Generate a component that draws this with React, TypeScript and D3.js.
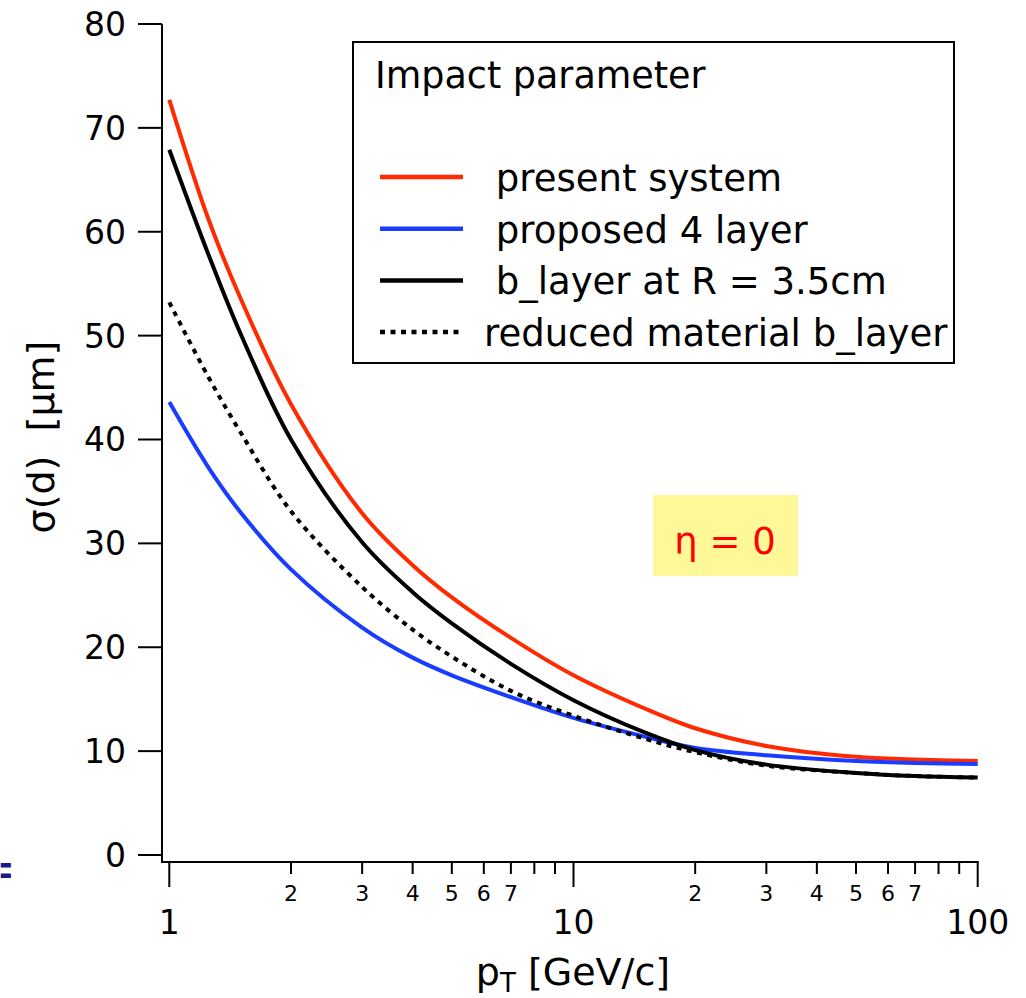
import React from 'react'
import * as d3 from 'd3'

// pT points (GeV/c) where curves were read
const pT = [1, 1.25, 1.5, 2, 3, 4, 5, 7, 10, 15, 20, 30, 50, 70, 100]

// sigma(d) in micrometres
const presentSystem = [72.7, 61.2, 53.6, 43.4, 32.9, 27.9, 24.8, 20.9, 17.3, 14.1, 12.2, 10.5, 9.45, 9.2, 9.05]
const proposed4Layer = [43.6, 37.3, 33.0, 27.5, 21.9, 19.0, 17.3, 15.2, 13.2, 11.4, 10.3, 9.6, 9.05, 8.85, 8.75]
const bLayer = [67.9, 57.8, 50.2, 40.0, 30.1, 25.3, 22.3, 18.4, 14.9, 11.8, 10.1, 8.7, 7.9, 7.6, 7.45]
const reducedBLayer = [53.2, 46.0, 40.7, 33.1, 25.8, 21.7, 19.1, 15.8, 13.4, 11.2, 9.9, 8.6, 7.9, 7.6, 7.45]

const legendLabels = [' present system', ' proposed 4 layer', ' b_layer at R = 3.5cm', 'reduced material b_layer']
const yTicks = [0, 10, 20, 30, 40, 50, 60, 70, 80]
const xMajor = [1, 10, 100]
const xMinorLabels = [2, 3, 4, 5, 6, 7]

const FONT = '"DejaVu Sans", Verdana, sans-serif'

export default function App() {
  const width = 1026
  const height = 998

  const x = d3.scaleLog().domain([1, 100]).range([169.3, 977.7])
  const y = d3.scaleLinear().domain([0, 80]).range([855, 24])

  const axisX = 162
  const axisY = 862

  const series = [
    { values: presentSystem, color: '#ff2a00', dash: null },
    { values: proposed4Layer, color: '#1a3cff', dash: null },
    { values: bLayer, color: '#000000', dash: null },
    { values: reducedBLayer, color: '#000000', dash: '5 5.5' },
  ]

  const line = (vals: number[]) =>
    d3.line<number>()
      .x((_, i) => x(pT[i]))
      .y(d => y(d))
      .curve(d3.curveCatmullRom.alpha(0.5))(vals) as string

  // minor ticks for each decade
  const minorTicks: number[] = []
  for (const dec of [1, 10]) {
    for (let k = 2; k <= 9; k++) minorTicks.push(k * dec)
  }

  return (
    <svg width={width} height={height} style={{ position: 'absolute', left: 0, top: 0, background: '#fff' }}
      fontFamily={FONT}>
      <rect x={0} y={0} width={width} height={height} fill="#fff" />

      {/* stray label fragment at left edge */}
      <text transform="translate(-1,887) scale(0.3,1)" fontSize={54} fill="#1a1a8c">=</text>

      {/* curves */}
      {series.map((s, i) => (
        <path key={i} d={line(s.values)} fill="none" stroke={s.color} strokeWidth={4}
          strokeDasharray={s.dash || undefined} />
      ))}

      {/* y axis */}
      <line x1={axisX} x2={axisX} y1={y(80)} y2={axisY + 1} stroke="#000" strokeWidth={2} />
      {yTicks.map(t => (
        <g key={t}>
          <line x1={138} x2={axisX} y1={y(t)} y2={y(t)} stroke="#000" strokeWidth={2} />
          <text x={126} y={y(t)} dy="0.36em" textAnchor="end" fontSize={33}>{t}</text>
        </g>
      ))}

      {/* x axis */}
      <line x1={axisX - 1} x2={x(100) + 1} y1={axisY} y2={axisY} stroke="#000" strokeWidth={2} />
      {xMajor.map(t => (
        <g key={t}>
          <line x1={x(t)} x2={x(t)} y1={axisY} y2={axisY + 25} stroke="#000" strokeWidth={2} />
          <text x={x(t)} y={934} textAnchor="middle" fontSize={33}>{t}</text>
        </g>
      ))}
      {minorTicks.map(t => (
        <line key={t} x1={x(t)} x2={x(t)} y1={axisY} y2={axisY + 12} stroke="#000" strokeWidth={2} />
      ))}
      {[1, 10].flatMap(dec => xMinorLabels.map(k => (
        <text key={dec * k} x={x(dec * k)} y={901} textAnchor="middle" fontSize={22}>{k}</text>
      )))}

      {/* axis titles */}
      <text x={573} y={985} textAnchor="middle" fontSize={38}>
        p<tspan fontSize={26} dy={7}>T</tspan><tspan dy={-7}> [GeV/c]</tspan>
      </text>
      <text transform="translate(54,437) rotate(-90)" textAnchor="middle" fontSize={38}
        style={{ whiteSpace: 'pre' }}>σ(d)  [µm]</text>

      {/* legend */}
      <rect x={353} y={42} width={601} height={321} fill="#fff" stroke="#000" strokeWidth={2} />
      <text x={375} y={88} fontSize={36.5}>Impact parameter</text>
      {series.map((s, i) => {
        const ly = 177 + i * 51.7
        return (
          <g key={i}>
            <line x1={380} x2={463} y1={ly} y2={ly} stroke={s.color} strokeWidth={4.5}
              strokeDasharray={s.dash || undefined} />
            <text x={484} y={ly + 14} fontSize={37} style={{ whiteSpace: 'pre' }}>{legendLabels[i]}</text>
          </g>
        )
      })}

      {/* eta annotation */}
      <rect x={653} y={495} width={145} height={81} fill="#fff899" />
      <text x={725} y={554} textAnchor="middle" fontSize={37} fill="#ff0000">η = 0</text>
    </svg>
  )
}
